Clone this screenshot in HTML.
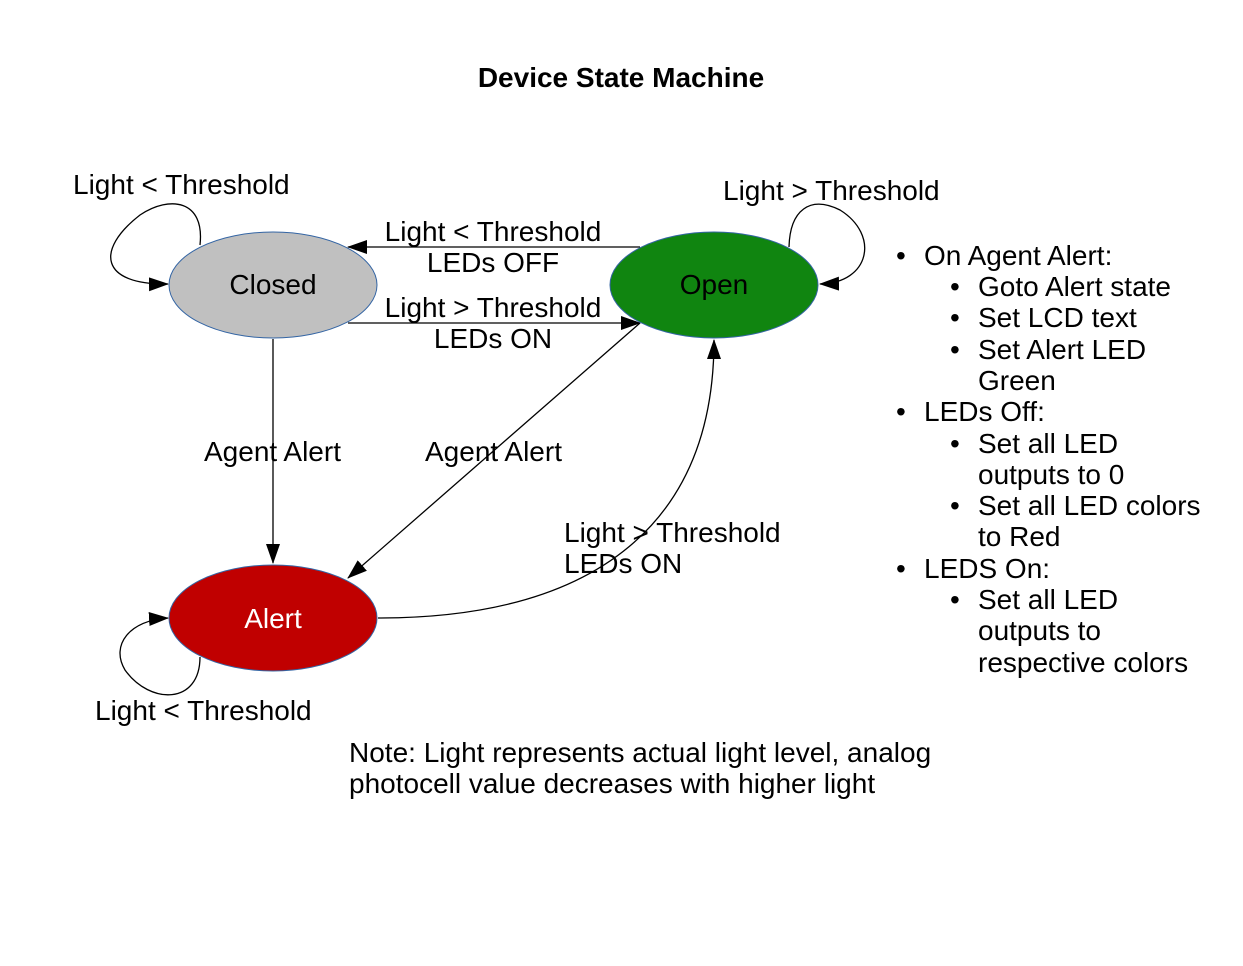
<!DOCTYPE html>
<html><head><style>
body{margin:0;background:#fff;}
svg text{font-family:"Liberation Sans",sans-serif;font-size:28px;fill:#000;}
</style></head><body>
<svg width="1243" height="961" viewBox="0 0 1243 961" xmlns="http://www.w3.org/2000/svg">
<defs><marker id="a" markerWidth="20" markerHeight="14" refX="19" refY="7" orient="auto" markerUnits="userSpaceOnUse"><path d="M0,0 L20,7 L0,14 Z" fill="#000"/></marker></defs>
<text x="621" y="87" text-anchor="middle" font-weight="bold" style="font-size:28px">Device State Machine</text>
<g fill="none" stroke="#000" stroke-width="1.3">
<line x1="640" y1="247" x2="348" y2="247" marker-end="url(#a)"/>
<line x1="348" y1="323" x2="640" y2="323" marker-end="url(#a)"/>
<line x1="273" y1="339" x2="273" y2="563" marker-end="url(#a)"/>
<line x1="640" y1="323" x2="348" y2="578" marker-end="url(#a)"/>
<path d="M378,618 C600,618 714,520 714,340" marker-end="url(#a)"/>
<path d="M200,245 C205,200 170,195 140,215 C95,250 100,285 168,284" marker-end="url(#a)"/>
<path d="M789,247 C790,210 810,195 840,210 C880,235 870,283 820,284" marker-end="url(#a)"/>
<path d="M200,657 C200,705 150,705 125,670 C110,645 130,620 168,618" marker-end="url(#a)"/>
</g>
<ellipse cx="273" cy="285" rx="104" ry="53" fill="#c0c0c0" stroke="#3465a4" stroke-width="1"/>
<ellipse cx="714" cy="285" rx="104" ry="53" fill="#108510" stroke="#3465a4" stroke-width="1"/>
<ellipse cx="273" cy="618" rx="104" ry="53" fill="#c00000" stroke="#3465a4" stroke-width="1"/>
<text x="273" y="294" text-anchor="middle">Closed</text>
<text x="714" y="294" text-anchor="middle">Open</text>
<text x="273" y="628" text-anchor="middle" style="fill:#fff">Alert</text>
<text x="73" y="194">Light &lt; Threshold</text>
<text x="723" y="200">Light &gt; Threshold</text>
<text x="95" y="720">Light &lt; Threshold</text>
<text x="493" y="241" text-anchor="middle">Light &lt; Threshold</text>
<text x="493" y="272" text-anchor="middle">LEDs OFF</text>
<text x="493" y="317" text-anchor="middle">Light &gt; Threshold</text>
<text x="493" y="348" text-anchor="middle">LEDs ON</text>
<text x="204" y="461">Agent Alert</text>
<text x="425" y="461">Agent Alert</text>
<text x="564" y="542">Light &gt; Threshold</text>
<text x="564" y="573">LEDs ON</text>
<text x="349" y="762">Note: Light represents actual light level, analog</text>
<text x="349" y="793">photocell value decreases with higher light</text>
<g>
<text x="896" y="265">•</text><text x="924" y="265">On Agent Alert:</text>
<text x="950" y="296">•</text><text x="978" y="296">Goto Alert state</text>
<text x="950" y="327">•</text><text x="978" y="327">Set LCD text</text>
<text x="950" y="359">•</text><text x="978" y="359">Set Alert LED</text>
<text x="978" y="390">Green</text>
<text x="896" y="421">•</text><text x="924" y="421">LEDs Off:</text>
<text x="950" y="453">•</text><text x="978" y="453">Set all LED</text>
<text x="978" y="484">outputs to 0</text>
<text x="950" y="515">•</text><text x="978" y="515">Set all LED colors</text>
<text x="978" y="546">to Red</text>
<text x="896" y="578">•</text><text x="924" y="578">LEDS On:</text>
<text x="950" y="609">•</text><text x="978" y="609">Set all LED</text>
<text x="978" y="640">outputs to</text>
<text x="978" y="672">respective colors</text>
</g>
</svg>
</body></html>
